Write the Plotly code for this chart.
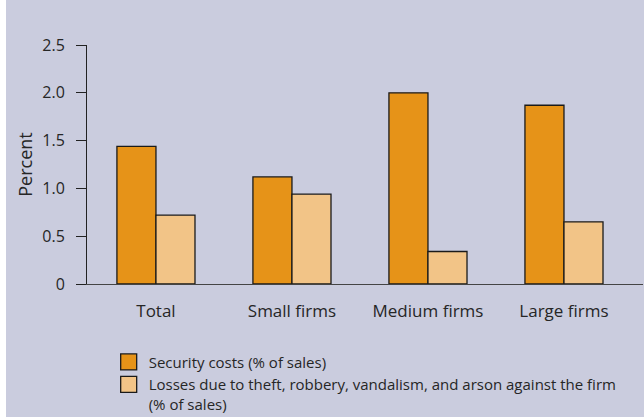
import plotly.graph_objects as go

categories = ["Total", "Small firms", "Medium firms", "Large firms"]
security_costs = [1.44, 1.12, 2.00, 1.87]
losses = [0.72, 0.94, 0.34, 0.65]
y_tick_vals = [0, 0.5, 1.0, 1.5, 2.0, 2.5]
y_tick_text = ["0", "0.5", "1.0", "1.5", "2.0", "2.5"]
series_names = ["Security costs (% of sales)",
                "Losses due to theft, robbery, vandalism, and arson against the firm<br>(% of sales)"]

DARK = "#E69318"
LIGHT = "#F2C487"
BG = "#CACCDE"
TXT = "#262626"
FONT = "Open Sans"

fig = go.Figure()
fig.add_trace(go.Bar(x=list(range(len(categories))), y=security_costs, marker=dict(color=DARK, line=dict(color="#1a1a1a", width=1.3)),
                     showlegend=False))
fig.add_trace(go.Bar(x=list(range(len(categories))), y=losses, marker=dict(color=LIGHT, line=dict(color="#1a1a1a", width=1.3)),
                     showlegend=False))
for name, col in zip(series_names, [DARK, LIGHT]):
    fig.add_trace(go.Scatter(x=[None], y=[None], mode="markers", name=name,
                             marker=dict(symbol="square", size=16, color=col, line=dict(color="#1a1a1a", width=1.3))))

fig.update_layout(
    width=644, height=417,
    margin=dict(l=87, r=1, t=45, b=133, autoexpand=False),
    paper_bgcolor=BG, plot_bgcolor=BG,
    barmode="group", bargap=0.426, bargroupgap=0,
    font=dict(family=FONT, size=15, color=TXT),
    showlegend=True,
    legend=dict(x=0.039, y=-0.258, xanchor="left", yanchor="top", bgcolor="rgba(0,0,0,0)",
                valign="top", font=dict(size=15, family=FONT, color=TXT), tracegroupgap=0),
    shapes=[dict(type="rect", xref="paper", yref="paper", x0=-0.2, x1=(6 - 87) / 556, y0=-1, y1=2,
                 fillcolor="white", line=dict(width=0), layer="below")],
)
fig.update_xaxes(range=[-0.507, 3.581], tickvals=list(range(len(categories))), ticktext=categories,
                 showline=True, linecolor="#444", linewidth=1, ticks="", showgrid=False, zeroline=False,
                 tickfont=dict(size=17), ticklabelstandoff=12, fixedrange=True, automargin=False)
fig.update_yaxes(range=[0, 2.5], tickvals=y_tick_vals, ticktext=y_tick_text,
                 showline=True, linecolor="#222", linewidth=1, ticks="outside", ticklen=10, tickcolor="#222",
                 showgrid=False, zeroline=False, tickfont=dict(size=16), ticklabelstandoff=8, automargin=False,
                 title=dict(text="Percent", font=dict(size=18), standoff=4))

fig.write_html("out.html")
